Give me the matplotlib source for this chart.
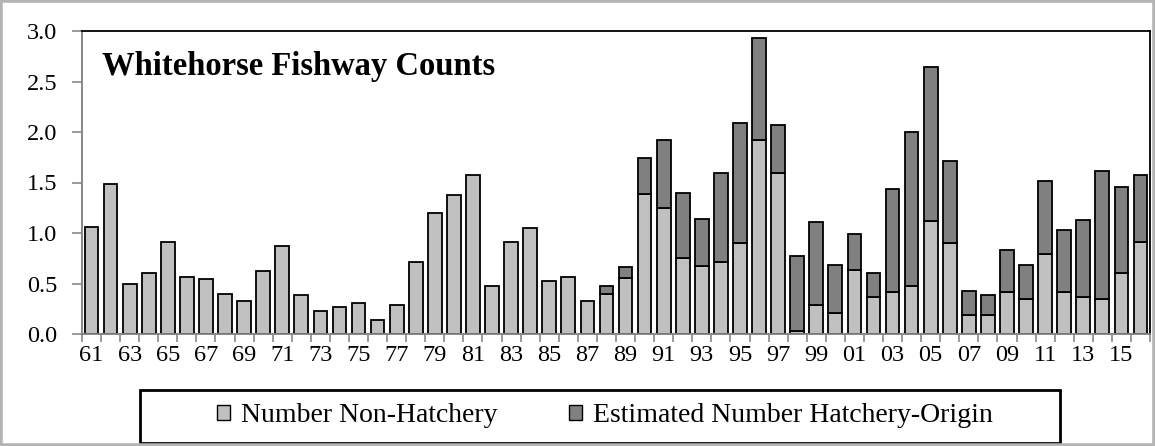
import numpy as np
import matplotlib
matplotlib.use("Agg")
import matplotlib.pyplot as plt
from matplotlib.patches import Rectangle, Patch

# values in thousands of fish
years = list(range(1961, 2017))
year_labels = ["%02d" % (y % 100) for y in years]

non_hatchery = [1.06, 1.49, 0.50, 0.60, 0.91, 0.56, 0.54, 0.40, 0.33, 0.62,
                0.87, 0.39, 0.23, 0.27, 0.31, 0.135, 0.29, 0.71, 1.20, 1.38,
                1.57, 0.48, 0.91, 1.05, 0.52, 0.56, 0.33, 0.40, 0.55, 1.39,
                1.25, 0.75, 0.675, 0.71, 0.905, 1.92, 1.59, 0.03, 0.29, 0.21,
                0.63, 0.365, 0.42, 0.48, 1.12, 0.905, 0.19, 0.19, 0.42, 0.345,
                0.79, 0.42, 0.365, 0.345, 0.60, 0.91]
hatchery = [0.0] * 27 + [0.08, 0.11, 0.35, 0.67, 0.65, 0.465, 0.88, 1.185,
                         1.01, 0.48, 0.74, 0.82, 0.47, 0.36, 0.235, 1.02, 1.52,
                         1.52, 0.805, 0.235, 0.20, 0.41, 0.335, 0.72, 0.61,
                         0.765, 1.265, 0.855, 0.66]

plt.rcParams['font.family'] = ['Liberation Serif', 'DejaVu Serif']

W, H = 1155, 446
fig = plt.figure(figsize=(W / 100, H / 100), dpi=100)
ax = fig.add_axes([82 / W, 1 - 334 / H, (1150 - 82) / W, (334 - 31) / H])

x = np.arange(len(years))
nh = np.array(non_hatchery)
ht = np.array(hatchery)
light, dark = '#c0c0c0', '#808080'
ax.bar(x, nh, width=0.72, color=light, edgecolor='black', linewidth=1.3)
mask = ht > 0
ax.bar(x[mask], ht[mask], bottom=nh[mask], width=0.72, color=dark,
       edgecolor='black', linewidth=1.3)

ax.set_xlim(-0.5, len(years) - 0.5)
ax.set_ylim(0, 3.0)
ax.set_yticks(np.arange(0, 3.01, 0.5))
ax.set_yticklabels(["%.1f" % v for v in np.arange(0, 3.01, 0.5)])
ax.tick_params(axis='y', direction='out', length=7, width=1.1, color='#7f7f7f',
               labelsize=17.5, pad=11)

# labels under every other bar, tick marks between bars
ax.set_xticks(x[::2])
ax.set_xticklabels(year_labels[::2])
ax.set_xticks(np.arange(-0.5, len(years), 1), minor=True)
ax.tick_params(axis='x', which='major', length=0, labelsize=17.5, pad=8)
ax.tick_params(axis='x', which='minor', direction='out', length=6, width=1.1,
               color='#7f7f7f')

for side in ['left', 'bottom']:
    ax.spines[side].set_color('#7f7f7f')
    ax.spines[side].set_linewidth(1.3)
for side in ['top', 'right']:
    ax.spines[side].set_color('black')
    ax.spines[side].set_linewidth(1.3)

ax.text((102 - 82) / (1150 - 82), 1 - (75 - 31) / (334 - 31),
        'Whitehorse Fishway Counts', transform=ax.transAxes,
        fontsize=23.5, fontweight='bold', va='baseline', ha='left')

# legend with its own box
handles = [Patch(facecolor=light, edgecolor='black', linewidth=1),
           Patch(facecolor=dark, edgecolor='black', linewidth=1)]
fig.legend(handles, ['Number Non-Hatchery', 'Estimated Number Hatchery-Origin'],
           loc='center', bbox_to_anchor=(605 / W, 1 - 416 / H), ncol=2,
           frameon=False, fontsize=20, handlelength=0.45, handleheight=0.45,
           handletextpad=0.4, columnspacing=2.6)
fig.patches.append(Rectangle((140 / W, 1 - 443 / H), (1060 - 140) / W, 53 / H,
                             transform=fig.transFigure, fill=False,
                             edgecolor='black', linewidth=2))

# grey frame around the whole picture
fig.patches.append(Rectangle((0, 0), 1, 1, transform=fig.transFigure,
                             fill=False, edgecolor='#b4b4b4', linewidth=4))

fig.savefig('out.png', dpi=100)
